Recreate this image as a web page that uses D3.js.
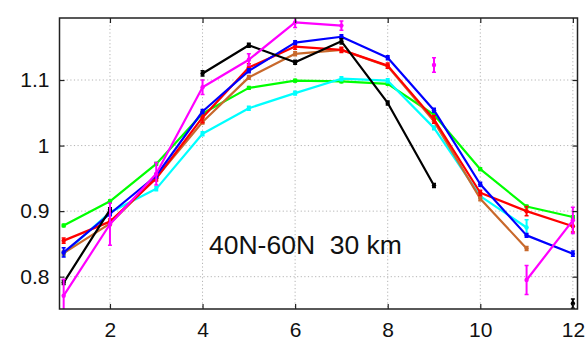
<!DOCTYPE html>
<html>
<head>
<meta charset="utf-8">
<script src="https://cdn.jsdelivr.net/npm/d3@7"></script>
<style>
  body { margin: 0; background: #fff; }
  svg { display: block; font-family: "Liberation Sans", Arial, sans-serif; }
</style>
</head>
<body>
<svg id="chart" width="587" height="340"></svg>
<script>
// months on the x axis
const months = [1, 2, 3, 4, 5, 6, 7, 8, 9, 10, 11, 12];
const xTicks = [2, 4, 6, 8, 10, 12];
const yTicks = [0.8, 0.9, 1, 1.1];

// series values (null = no data)
const greenVals   = [0.878, 0.915, 0.972, 1.049, 1.088, 1.099, 1.098, 1.094, 1.047, 0.964, 0.907, 0.891];
const cyanVals    = [0.835, 0.898, 0.934, 1.018, 1.057, 1.080, 1.102, 1.099, 1.027, 0.923, 0.875, null];
const brownVals   = [0.836, 0.881, 0.951, 1.036, 1.104, 1.140, 1.146, 1.121, 1.037, 0.919, 0.843, null];
const redVals     = [0.855, 0.884, 0.950, 1.043, 1.119, 1.151, 1.146, 1.122, 1.040, 0.928, 0.900, 0.877];
const blueVals    = [0.837, 0.896, 0.954, 1.052, 1.114, 1.157, 1.166, 1.134, 1.054, 0.941, 0.863, 0.835];
const blackVals   = [0.791, 0.902, null, 1.110, 1.153, 1.127, 1.159, 1.065, 0.939, null, null, 0.759];
const magentaVals = [0.771, 0.880, 0.957, 1.089, 1.131, 1.188, 1.183, null, 1.123, null, 0.795, 0.886];

// error bar half-widths
const greenErr   = [0.002, 0.002, 0.002, 0.002, 0.002, 0.002, 0.002, 0.002, 0.002, 0.002, 0.002, 0.002];
const cyanErr    = [0.003, 0.003, 0.003, 0.003, 0.003, 0.003, 0.003, 0.003, 0.003, 0.003, 0.012, null];
const brownErr   = [0.003, 0.003, 0.003, 0.003, 0.003, 0.003, 0.003, 0.003, 0.003, 0.003, 0.003, null];
const redErr     = [0.004, 0.004, 0.004, 0.008, 0.006, 0.004, 0.004, 0.004, 0.006, 0.004, 0.007, 0.009];
const blueErr    = [0.007, 0.003, 0.003, 0.003, 0.003, 0.003, 0.003, 0.003, 0.003, 0.003, 0.003, 0.004];
const blackErr   = [0.003, 0.003, null, 0.004, 0.003, 0.003, 0.004, 0.003, 0.003, null, null, 0.007];
const magentaErr = [0.025, 0.032, 0.017, 0.011, 0.009, 0.008, 0.007, null, 0.011, null, 0.022, 0.020];

const series = [
  { color: "#00ff00", vals: greenVals, err: greenErr },
  { color: "#00ffff", vals: cyanVals, err: cyanErr },
  { color: "#c8692c", vals: brownVals, err: brownErr },
  { color: "#ff0000", vals: redVals, err: redErr },
  { color: "#0000ff", vals: blueVals, err: blueErr },
  { color: "#000000", vals: blackVals, err: blackErr },
  { color: "#ff00ff", vals: magentaVals, err: magentaErr }
];

const label = "40N-60N  30 km";

const plotL = 59.5, plotR = 577.5, plotT = 18, plotB = 309;
const svg = d3.select("#chart");

const x = d3.scaleLinear().domain([0.91, 12.1]).range([plotL, plotR]);
const y = d3.scaleLinear().domain([0.7507, 1.1946]).range([plotB, plotT]);

svg.append("defs").append("clipPath").attr("id", "plotClip")
  .append("rect").attr("x", plotL).attr("y", plotT)
  .attr("width", plotR - plotL).attr("height", plotB - plotT);

// dotted grid
const grid = svg.append("g").attr("stroke", "#b4b4b4").attr("stroke-dasharray", "1.2,2.4").attr("stroke-width", 1);
grid.selectAll(".gx").data(xTicks).join("line")
  .attr("x1", d => x(d)).attr("x2", d => x(d)).attr("y1", plotT).attr("y2", plotB);
grid.selectAll(".gy").data(yTicks).join("line")
  .attr("x1", plotL).attr("x2", plotR).attr("y1", d => y(d)).attr("y2", d => y(d));

// annotation
svg.append("text").attr("x", 209).attr("y", 254)
  .attr("font-size", 26.5).attr("fill", "#111").style("white-space", "pre")
  .text(label);

// series lines, error bars, markers
const plot = svg.append("g").attr("clip-path", "url(#plotClip)");
series.forEach(s => {
  const pts = months.map((m, i) => ({ m, v: s.vals[i], e: s.err[i] }));
  const line = d3.line().defined(d => d.v !== null).x(d => x(d.m)).y(d => y(d.v));
  const g = plot.append("g");
  g.append("path").datum(pts).attr("d", line)
    .attr("fill", "none").attr("stroke", s.color).attr("stroke-width", 2.2)
    .attr("stroke-linejoin", "round");
  const valid = pts.filter(d => d.v !== null);
  g.selectAll(".eb").data(valid).join("line")
    .attr("x1", d => x(d.m)).attr("x2", d => x(d.m))
    .attr("y1", d => y(d.v - d.e)).attr("y2", d => y(d.v + d.e))
    .attr("stroke", s.color).attr("stroke-width", 2);
  g.selectAll(".ec").data(valid.flatMap(d => [d.v - d.e, d.v + d.e].map(v => ({ m: d.m, v }))))
    .join("line")
    .attr("x1", d => x(d.m) - 2).attr("x2", d => x(d.m) + 2)
    .attr("y1", d => y(d.v)).attr("y2", d => y(d.v))
    .attr("stroke", s.color).attr("stroke-width", 1.5);
  g.selectAll(".mk").data(valid).join("circle")
    .attr("cx", d => x(d.m)).attr("cy", d => y(d.v)).attr("r", 2.2)
    .attr("fill", s.color);
});

// axes box
svg.append("rect").attr("x", plotL).attr("y", plotT)
  .attr("width", plotR - plotL).attr("height", plotB - plotT)
  .attr("fill", "none").attr("stroke", "#222").attr("stroke-width", 1.5);

const tickLen = 5;
const axisB = svg.append("g").attr("transform", `translate(0,${plotB})`)
  .call(d3.axisBottom(x).tickValues(xTicks).tickSizeInner(-tickLen).tickSizeOuter(0).tickPadding(13).tickFormat(d3.format("d")));
const axisT = svg.append("g").attr("transform", `translate(0,${plotT})`)
  .call(d3.axisTop(x).tickValues(xTicks).tickSizeInner(-tickLen).tickSizeOuter(0).tickFormat(""));
const axisL = svg.append("g").attr("transform", `translate(${plotL},0)`)
  .call(d3.axisLeft(y).tickValues(yTicks).tickSizeInner(-tickLen).tickSizeOuter(0).tickPadding(10).tickFormat(d => String(d)));
const axisR = svg.append("g").attr("transform", `translate(${plotR},0)`)
  .call(d3.axisRight(y).tickValues(yTicks).tickSizeInner(-tickLen).tickSizeOuter(0).tickFormat(""));

[axisB, axisT, axisL, axisR].forEach(a => {
  a.select(".domain").remove();
  a.selectAll(".tick line").attr("stroke", "#222").attr("stroke-width", 1.2);
  a.selectAll("text").attr("font-size", 21).attr("fill", "#111")
    .attr("font-family", "'Liberation Sans', Arial, sans-serif");
});
</script>
</body>
</html>
